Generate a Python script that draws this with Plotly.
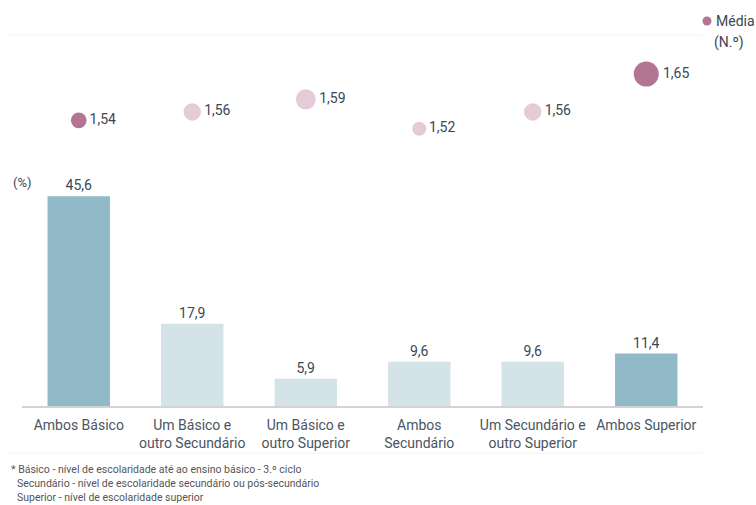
import plotly.graph_objects as go

categories = ['Ambos Básico', 'Um Básico e<br>outro Secundário', 'Um Básico e<br>outro Superior',
              'Ambos<br>Secundário', 'Um Secundário e<br>outro Superior', 'Ambos Superior']
pct = [45.6, 17.9, 5.9, 9.6, 9.6, 11.4]
media = [1.54, 1.56, 1.59, 1.52, 1.56, 1.65]
footnotes = ['* Básico - nível de escolaridade até ao ensino básico - 3.º ciclo',
             'Secundário - nível de escolaridade secundário ou pós-secundário',
             'Superior - nível de escolaridade superior']

highlight = ['Ambos Básico', 'Ambos Superior']
bar_colors = ['#92B9C7' if c in highlight else '#D4E3E8' for c in categories]
dot_colors = ['#B47592' if c in highlight else '#E5CAD7' for c in categories]
dot_sizes = [14 + (m - min(media)) * 85 for m in media]

txt = '#3B4754'
W, H = 756, 505
L, R, T, B = 22, 53, 35, 99
pw, ph = W - L - R, H - T - B

def px(x):
    return (x - L) / pw

def py(y):
    return (H - B - y) / ph

fig = go.Figure()

fig.add_trace(go.Bar(
    x=categories, y=pct,
    marker=dict(color=bar_colors, line=dict(width=0)),
    texttemplate='%{y:.1f}', textposition='outside',
    textfont=dict(size=14, color=txt),
    cliponaxis=False, showlegend=False, hoverinfo='skip'
))

fig.add_trace(go.Scatter(
    x=categories, y=media, yaxis='y2',
    mode='markers+text',
    marker=dict(color=dot_colors, size=dot_sizes, opacity=1, line=dict(width=0)),
    texttemplate='%{y:.2f}', textposition='middle right',
    textfont=dict(size=14, color=txt),
    cliponaxis=False, showlegend=False, hoverinfo='skip'
))

fig.update_layout(
    width=W, height=H,
    margin=dict(l=L, r=R, t=T, b=B),
    paper_bgcolor='white', plot_bgcolor='white',
    font=dict(family='Roboto', color=txt),
    separators=',.',
    bargap=0.45,
    xaxis=dict(showline=True, linecolor='#D3D3D3', linewidth=1.5, showgrid=False,
               ticks='', ticklabelstandoff=5,
               tickfont=dict(size=14, color='#4A5561'), fixedrange=True),
    yaxis=dict(domain=[0, 0.6], range=[0, 48.4], visible=False, showgrid=False),
    yaxis2=dict(domain=[0.6, 1], range=[1.39, 1.743], visible=False, showgrid=False, anchor='x'),
)

# faint separator lines
for y in [35, 453]:
    fig.add_shape(type='line', xref='paper', yref='paper', x0=px(8), x1=px(702),
                  y0=py(y), y1=py(y), line=dict(color='#F3F3F3', width=1))

fig.add_annotation(xref='paper', yref='paper', x=px(11), y=py(183), xanchor='left', yanchor='middle',
                   text='(%)', showarrow=False, font=dict(size=13, color=txt))

# legend
fig.add_shape(type='circle', xref='paper', yref='paper', xsizemode='pixel', ysizemode='pixel',
              xanchor=px(707), yanchor=py(21), x0=-4.5, x1=4.5, y0=-4.5, y1=4.5,
              fillcolor='#B47592', line=dict(width=0))
fig.add_annotation(xref='paper', yref='paper', x=px(714), y=py(21), xanchor='left', yanchor='middle',
                   text='Média', showarrow=False, font=dict(size=14, color=txt))
fig.add_annotation(xref='paper', yref='paper', x=px(712), y=py(42), xanchor='left', yanchor='middle',
                   text='(N.º)', showarrow=False, font=dict(size=14, color=txt))

for i, line in enumerate(footnotes):
    fig.add_annotation(xref='paper', yref='paper', x=px(9 if i == 0 else 15), y=py(469 + i * 14.5),
                       xanchor='left', yanchor='middle', text=line, showarrow=False,
                       font=dict(size=10.5, color='#555555'))

fig.write_html('out.html', config={'displayModeBar': False},
               post_script="document.body.style.margin='0';document.body.style.overflow='hidden';")
